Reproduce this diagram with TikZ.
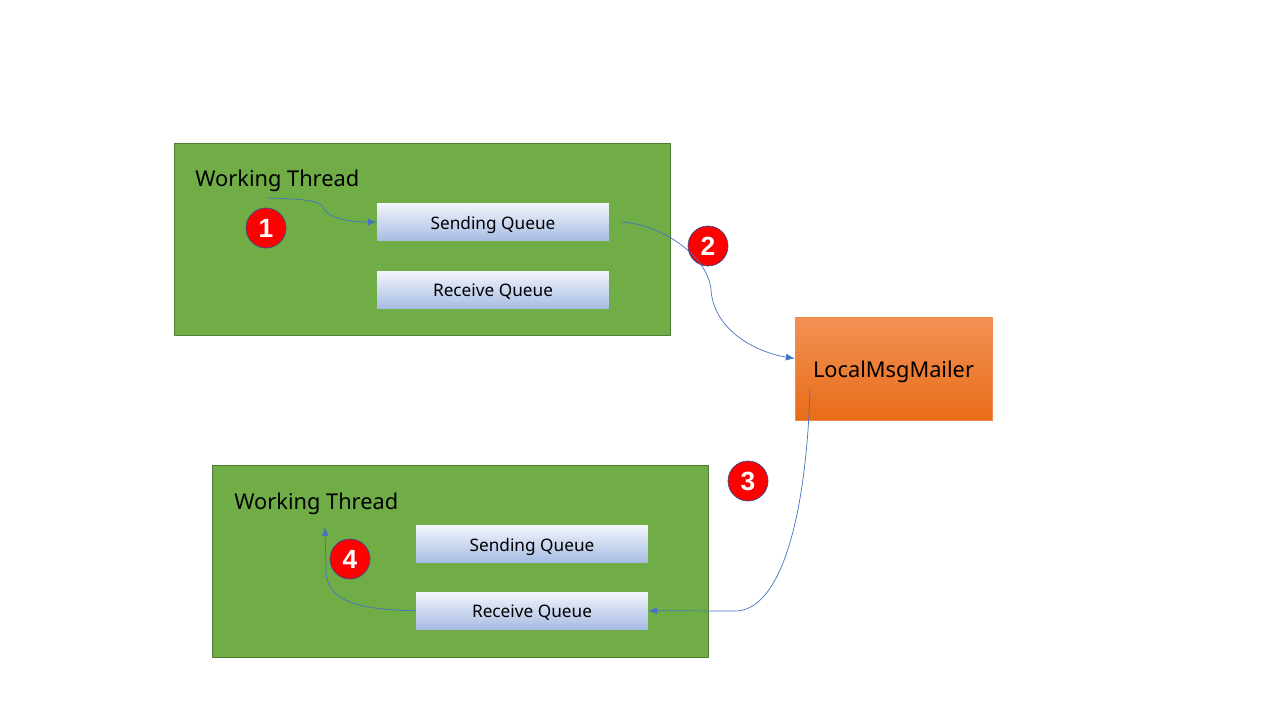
\documentclass[tikz,border=0pt]{standalone}
\usepackage{fontspec}
\setmainfont{Noto Sans}
\newfontfamily\badgefont{Liberation Sans}
\usetikzlibrary{positioning,arrows.meta}
\definecolor{threadgreen}{HTML}{70AD47}
\definecolor{threadline}{HTML}{507E32}
\definecolor{qtop}{HTML}{F2F5FB}
\definecolor{qbot}{HTML}{A7BCE3}
\definecolor{mtop}{HTML}{F29155}
\definecolor{mbot}{HTML}{E86C18}
\definecolor{mline}{HTML}{F08A48}
\definecolor{badgeline}{HTML}{2F528F}
\definecolor{flowblue}{HTML}{4472C4}
\begin{document}
\begin{tikzpicture}[x=0.02cm,y=-0.02cm,line join=round,line cap=round,>={Latex[length=5pt,width=4pt]}]
	\tikzset{thread/.style={draw=threadline,fill=threadgreen,minimum width=9.92cm,minimum height=3.84cm,inner sep=0},
		title/.style={anchor=west,inner sep=0,font=\fontsize{12.4}{15}\selectfont},
		queue/.style={top color=qtop,bottom color=qbot,minimum width=4.64cm,minimum height=0.74cm,inner sep=0,
			text height=8pt,text depth=0pt,font=\fontsize{9.8}{12}\selectfont},
		badge/.style={circle,draw=badgeline,fill=red,minimum size=0.8cm,inner sep=0,text=white,
			font=\badgefont\bfseries\fontsize{15}{17}\selectfont},
		flow/.style={->,draw=flowblue,thin}}
	\useasboundingbox (0,0) rectangle (1280,720);
	% upper thread
	\node[thread] (threadA) at (422,239) {};
	\node[title] (titleA) at (195,181) {Working Thread};
	\node[queue] (sendA) at (493,222) {Sending Queue};
	\node[queue,below=0.6cm of sendA] (recvA) {Receive Queue};
	\node[badge] (one) at (266,228) {1};
	% lower thread
	\node[thread] (threadB) at (460.5,561.5) {};
	\node[title] (titleB) at (234,504) {Working Thread};
	\node[queue] (sendB) at (532,544) {Sending Queue};
	\node[queue,below=0.58cm of sendB] (recvB) {Receive Queue};
	\node[badge] (four) at (350,559) {4};
	% mailer
	\node[draw=mline,top color=mtop,bottom color=mbot,minimum width=3.94cm,minimum height=2.06cm,
		text height=10pt,text depth=0pt,font=\fontsize{12.4}{15}\selectfont] (mailer) at (893.5,368.5) {LocalMsgMailer};
	\node[badge] (two) at (708,246) {2};
	\node[badge] (three) at (748,481) {3};
	% connectors
	\coordinate (startA) at (268,198);
	\coordinate (startM) at ([xshift=-1.67cm,yshift=-0.43cm]mailer.center);
	\coordinate (endB) at (325,527);
	\draw[flow] (startA) .. controls (312,199) and (322,202) .. (324,209)
		.. controls (328,218) and (350,222) .. (sendA.west);
	\draw[flow] ([xshift=0.24cm]sendA.east) .. controls (660,224) and (708,255) .. (711,290)
		.. controls (714,330) and (755,352) .. ([yshift=0.2cm]mailer.west);
	\draw[flow] (startM) .. controls (806,520) and (780,611) .. (735,611) -- (recvB.east);
	\draw[flow] (recvB.west) .. controls (345,610) and (326,595) .. (326,570) -- (endB);
\end{tikzpicture}
\end{document}
